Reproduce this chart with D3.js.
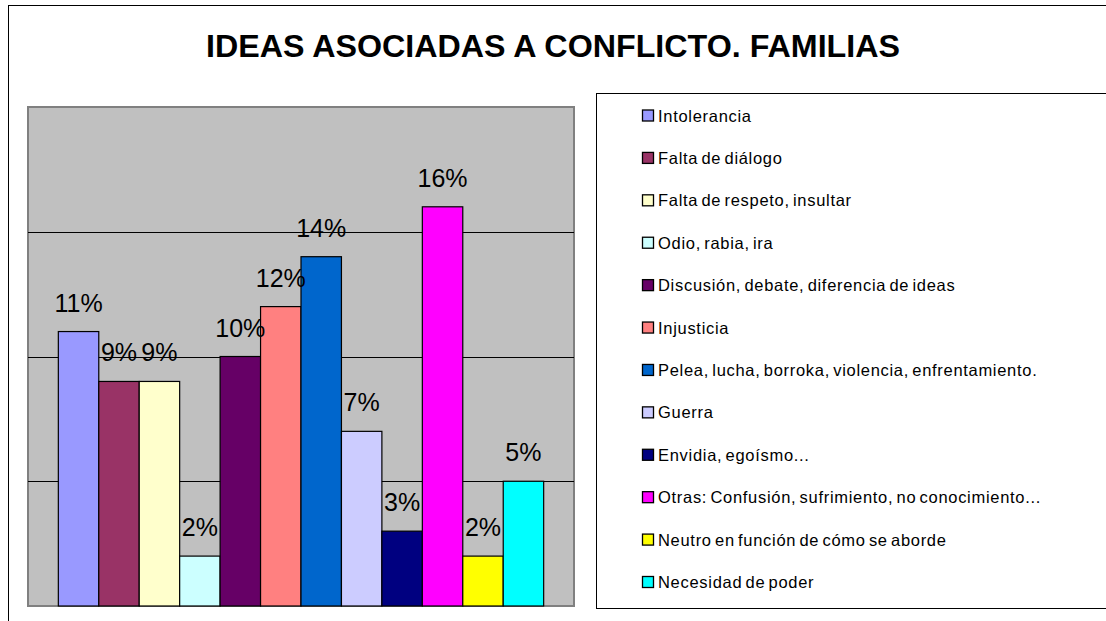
<!DOCTYPE html>
<html><head><meta charset="utf-8">
<script src="https://cdn.jsdelivr.net/npm/d3@7"></script>
<style>body{margin:0;background:#fff}svg{display:block;font-family:"Liberation Sans",Arial,sans-serif}</style>
</head><body>
<svg id="c" width="1106" height="621"></svg>
<script>
const title = "IDEAS ASOCIADAS A CONFLICTO. FAMILIAS";
const series = ["Intolerancia","Falta de diálogo","Falta de respeto, insultar","Odio, rabia, ira","Discusión, debate, diferencia de ideas","Injusticia","Pelea, lucha, borroka, violencia, enfrentamiento.","Guerra","Envidia, egoísmo...","Otras: Confusión, sufrimiento, no conocimiento...","Neutro en función de cómo se aborde","Necesidad de poder"];
const values = [0.11,0.09,0.09,0.02,0.10,0.12,0.14,0.07,0.03,0.16,0.02,0.05];
const colors = ["#9999FF","#993366","#FFFFCC","#CCFFFF","#660066","#FF8080","#0066CC","#CCCCFF","#000080","#FF00FF","#FFFF00","#00FFFF"];
const gridTicks = [0.05,0.10,0.15];

const svg = d3.select("#c");
// outer chart border
svg.append("rect").attr("x",8.5).attr("y",5.5).attr("width",1200).attr("height",700)
  .attr("fill","#fff").attr("stroke","#000").attr("stroke-width",1);

svg.append("text").attr("x",553).attr("y",57).attr("text-anchor","middle")
  .attr("font-weight","bold").attr("font-size",32)
  .attr("textLength",694).attr("lengthAdjust","spacingAndGlyphs")
  .text(title);

const P = {l:28,t:107,r:574,b:606};
const y = d3.scaleLinear().domain([0,0.20]).range([P.b,P.t]);
const x = d3.scaleBand().domain(series).range([P.l,P.r]).paddingInner(0).paddingOuter(0.75);

svg.append("rect").attr("x",P.l).attr("y",P.t).attr("width",P.r-P.l).attr("height",P.b-P.t)
  .attr("fill","#C0C0C0").attr("stroke","#808080").attr("stroke-width",2);

svg.append("g").selectAll("line").data(gridTicks).join("line")
  .attr("x1",P.l).attr("x2",P.r).attr("y1",d=>Math.round(y(d))+0.5).attr("y2",d=>Math.round(y(d))+0.5)
  .attr("stroke","#000").attr("stroke-width",1);

svg.append("g").selectAll("rect").data(values).join("rect")
  .attr("x",(d,i)=>x(series[i])).attr("width",x.bandwidth())
  .attr("y",d=>y(d)).attr("height",d=>y(0)-y(d))
  .attr("fill",(d,i)=>colors[i]).attr("stroke","#000").attr("stroke-width",1.2);

svg.append("g").selectAll("text").data(values).join("text")
  .attr("x",(d,i)=>x(series[i])+x.bandwidth()/2).attr("y",d=>y(d)-20)
  .attr("text-anchor","middle").attr("font-size",25).attr("fill","#000")
  .text(d=>Math.round(d*100)+"%");

// legend
svg.append("rect").attr("x",596.5).attr("y",93.5).attr("width",600).attr("height",515)
  .attr("fill","#fff").attr("stroke","#000").attr("stroke-width",1);
const ly = d3.scalePoint().domain(series).range([115.5,582]);
const lg = svg.append("g").selectAll("g").data(series).join("g")
  .attr("transform",d=>`translate(0,${ly(d)})`);
lg.append("rect").attr("x",642.5).attr("y",-5.5).attr("width",11).attr("height",11)
  .attr("fill",(d,i)=>colors[i]).attr("stroke","#000").attr("stroke-width",1.3);
lg.append("text").attr("x",658).attr("y",6).attr("font-size",16.5).attr("fill","#000")
  .attr("letter-spacing",0.7).attr("word-spacing",-2).text(d=>d);
</script>
</body></html>
